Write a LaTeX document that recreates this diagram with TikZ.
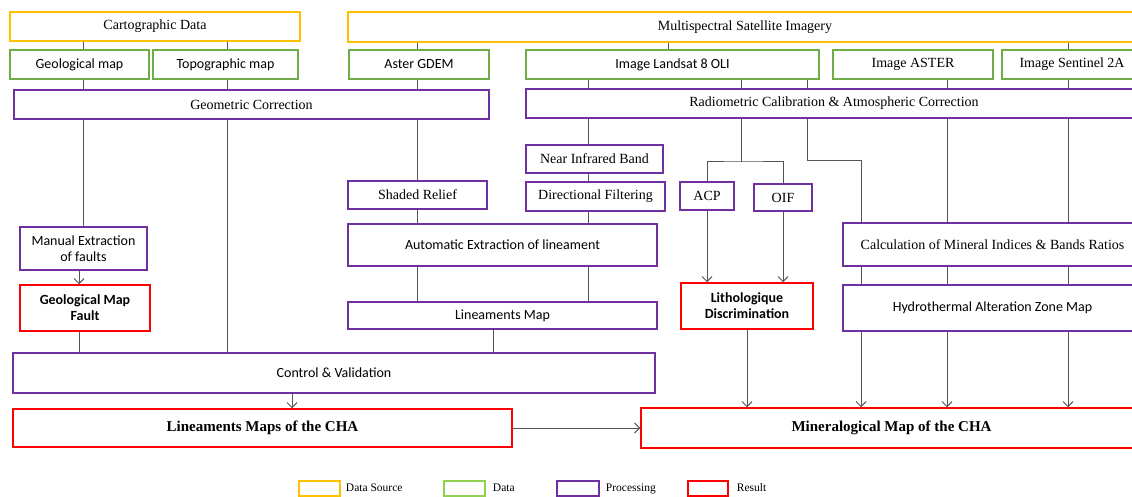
\documentclass[tikz,border=0pt]{standalone}
\usepackage{fontspec}
\setmainfont{Liberation Serif}
\newfontfamily\calibri{Carlito}
\usetikzlibrary{positioning,arrows.meta}
\definecolor{srcyellow}{HTML}{FFC000}
\definecolor{datagreen}{HTML}{70AD47}
\definecolor{keygreen}{HTML}{92D050}
\definecolor{procpurple}{HTML}{7030A0}
\definecolor{resred}{HTML}{FF0000}
\definecolor{linkgray}{HTML}{555555}
\newcommand{\rmtext}{\fontsize{14}{16}\selectfont}
\newcommand{\sftext}{\fontsize{14}{16}\calibri}
\newcommand{\titletext}{\fontsize{15}{17}\selectfont\bfseries}

\begin{document}
\begin{tikzpicture}[
  x=1pt, y=-1pt, >={Straight Barb[length=5pt,width=10pt]},
  box/.style={draw, line width=1.5pt, fill=white, inner sep=0pt, align=center, font=\rmtext},
  sz/.style 2 args={minimum width=#1pt, minimum height=#2pt},
  src/.style={box, draw=srcyellow},
  dat/.style={box, draw=datagreen},
  proc/.style={box, draw=procpurple},
  res/.style={box, draw=resred},
  sans/.style={font=\sftext},
  link/.style={draw=linkgray, line width=1pt},
  keytext/.style={inner sep=0pt, text height=8pt, text depth=2pt, font=\fontsize{11.5}{13}\selectfont},
]
  \clip (0,0) rectangle (1132,497);
  % sources
  \node[src, sz={290}{29}] (carto) at (155,26.5) {Cartographic Data};
  \node[src, sz={794}{30}] (multi) at (745,27) {Multispectral Satellite Imagery};
  % data
  \node[dat, sz={139}{29}, sans] (geomap) at (79.5,64.5) {Geological map};
  \node[dat, sz={145}{29}, sans] (topomap) at (225.5,64.5) {Topographic map};
  \node[dat, sz={140}{29}, sans] (gdem) at (419,64.5) {Aster GDEM};
  \node[dat, sz={293}{29}, sans] (landsat) at (672.5,64.5) {Image Landsat 8 OLI};
  \node[dat, sz={160}{29}] (aster) at (913,64.5) {Image ASTER};
  \node[dat, sz={140}{29}] (sentinel) at (1072,64.5) {Image Sentinel 2A};
  % processing
  \node[proc, sz={475}{29}] (geocorr) at (251.5,104.5) {Geometric Correction};
  \node[proc, sz={616}{29}] (radcorr) at (834,103.5) {Radiometric Calibration \& Atmospheric Correction};
  \node[proc, sz={137}{28}] (nir) at (594.5,159) {Near Infrared Band};
  \node[proc, sz={139}{29}] (dirfilt) at (595.5,196.5) {Directional Filtering};
  \node[proc, sz={139}{28}] (shaded) at (417.5,195) {Shaded Relief};
  \node[proc, sz={309}{42}, sans] (autoext) at (502.5,245) {Automatic Extraction of lineament};
  \node[proc, sz={309}{27}, sans] (linmap) at (502.5,315.5) {Lineaments Map};
  \node[proc, sz={127}{43}, sans] (manual) at (83.5,248.5) {Manual Extraction\\of faults};
  \node[proc, sz={54}{28}] (acp) at (707,196) {ACP};
  \node[proc, sz={58}{27}] (oif) at (783,197.5) {OIF};
  \node[proc, sz={299}{43}] (calc) at (992.5,244.5) {Calculation of Mineral Indices \& Bands Ratios};
  \node[proc, sz={299}{46}, sans] (hydro) at (992.5,308) {Hydrothermal Alteration Zone Map};
  \node[proc, sz={642}{40}, sans] (control) at (334,373) {Control \& Validation};
  % results
  \node[res, sz={130}{46}, font=\sftext\bfseries] (geofault) at (85,308) {Geological Map\\Fault};
  \node[res, sz={132}{46}, font=\sftext\bfseries] (litho) at (747,306) {Lithologique\\Discrimination};
  \node[res, sz={499}{38}, font=\titletext] (linres) at (262.5,428) {Lineaments Maps of the CHA};
  \node[res, sz={501}{40}, font=\titletext] (minres) at (891.5,428) {Mineralogical Map of the CHA};
  % columns of the connectors
  \coordinate (colgeo) at (83,0);
  \coordinate (coltopo) at (227,0);
  \coordinate (coldem) at (417,0);
  \coordinate (colnir) at (588,0);
  \coordinate (colsat) at (668,0);
  \coordinate (colaster) at (947,0);
  \coordinate (colsen) at (1068,0);
  \coordinate (colmin) at (861,0);
  \coordinate (colfault) at (79,0);
  \coordinate (colmap) at (493,0);
  \coordinate (colctrl) at (292,0);
  \coordinate (pcafork) at (741,162);
  \coordinate (minfork) at (807,161);
  % cartographic branch
  \draw[link] (carto.south -| colgeo) -- (geomap.north -| colgeo);
  \draw[link] (carto.south -| coltopo) -- (topomap.north -| coltopo);
  \draw[link] (geomap.south -| colgeo) -- (geocorr.north -| colgeo);
  \draw[link] (topomap.south -| coltopo) -- (geocorr.north -| coltopo);
  \draw[link] (geocorr.south -| colgeo) -- (manual.north -| colgeo);
  \draw[link] (geocorr.south -| coltopo) -- (control.north -| coltopo);
  \draw[link, ->] (manual.south -| colfault) -- (geofault.north -| colfault);
  \draw[link] (geofault.south -| colfault) -- (control.north -| colfault);
  % lineament branch
  \draw[link] (multi.south -| coldem) -- (gdem.north -| coldem);
  \draw[link] (gdem.south -| coldem) -- (geocorr.north -| coldem);
  \draw[link] (geocorr.south -| coldem) -- (shaded.north -| coldem);
  \draw[link] (shaded.south -| coldem) -- (autoext.north -| coldem);
  \draw[link] (autoext.south -| coldem) -- (linmap.north -| coldem);
  \draw[link] (radcorr.south -| colnir) -- (nir.north -| colnir);
  \draw[link] (nir.south -| colnir) -- (dirfilt.north -| colnir);
  \draw[link] (dirfilt.south -| colnir) -- (autoext.north -| colnir);
  \draw[link] (autoext.south -| colnir) -- (linmap.north -| colnir);
  \draw[link] (linmap.south -| colmap) -- (control.north -| colmap);
  \draw[link, ->] (control.south -| colctrl) -- (linres.north -| colctrl);
  \draw[link, ->] (linres) -- (minres);
  % satellite branch
  \draw[link] (multi.south -| colsat) -- (landsat.north -| colsat);
  \draw[link] (multi.south -| colsen) -- (sentinel.north -| colsen);
  \foreach \c/\n in {colnir/landsat, pcafork/landsat, minfork/landsat, colaster/aster, colsen/sentinel}
    \draw[link] (\n.south -| \c) -- (radcorr.north -| \c);
  \draw[link] (radcorr.south -| pcafork) -- (pcafork);
  \draw[link] (acp.north) |- (pcafork) -| (oif.north);
  \draw[link, ->] (acp.south) -- (acp.south |- litho.north);
  \draw[link, ->] (oif.south) -- (oif.south |- litho.north);
  \draw[link] (radcorr.south -| minfork) -- (minfork) -| (calc.north -| colmin);
  \foreach \c in {colaster, colsen}
    \draw[link] (radcorr.south -| \c) -- (calc.north -| \c);
  \foreach \c in {colmin, colaster, colsen} {
    \draw[link] (calc.south -| \c) -- (hydro.north -| \c);
    \draw[link, ->] (hydro.south -| \c) -- (minres.north -| \c);
  }
  \draw[link, ->] (litho.south) -- (litho.south |- minres.north);
  % legend
  \node[src, sz={41}{15}] (keysrc) at (319.5,488.5) {};
  \node[keytext, right=5pt of keysrc] (keysrclbl) {Data Source};
  \node[box, draw=keygreen, sz={41}{15}] (keydat) at (464.5,488.5) {};
  \node[keytext, right=7pt of keydat] (keydatlbl) {Data};
  \node[proc, sz={42}{15}] (keyproc) at (578,488.5) {};
  \node[keytext, right=6pt of keyproc] (keyproclbl) {Processing};
  \node[res, sz={40}{15}] (keyres) at (708,488.5) {};
  \node[keytext, right=8pt of keyres] (keyreslbl) {Result};
\end{tikzpicture}
\end{document}
